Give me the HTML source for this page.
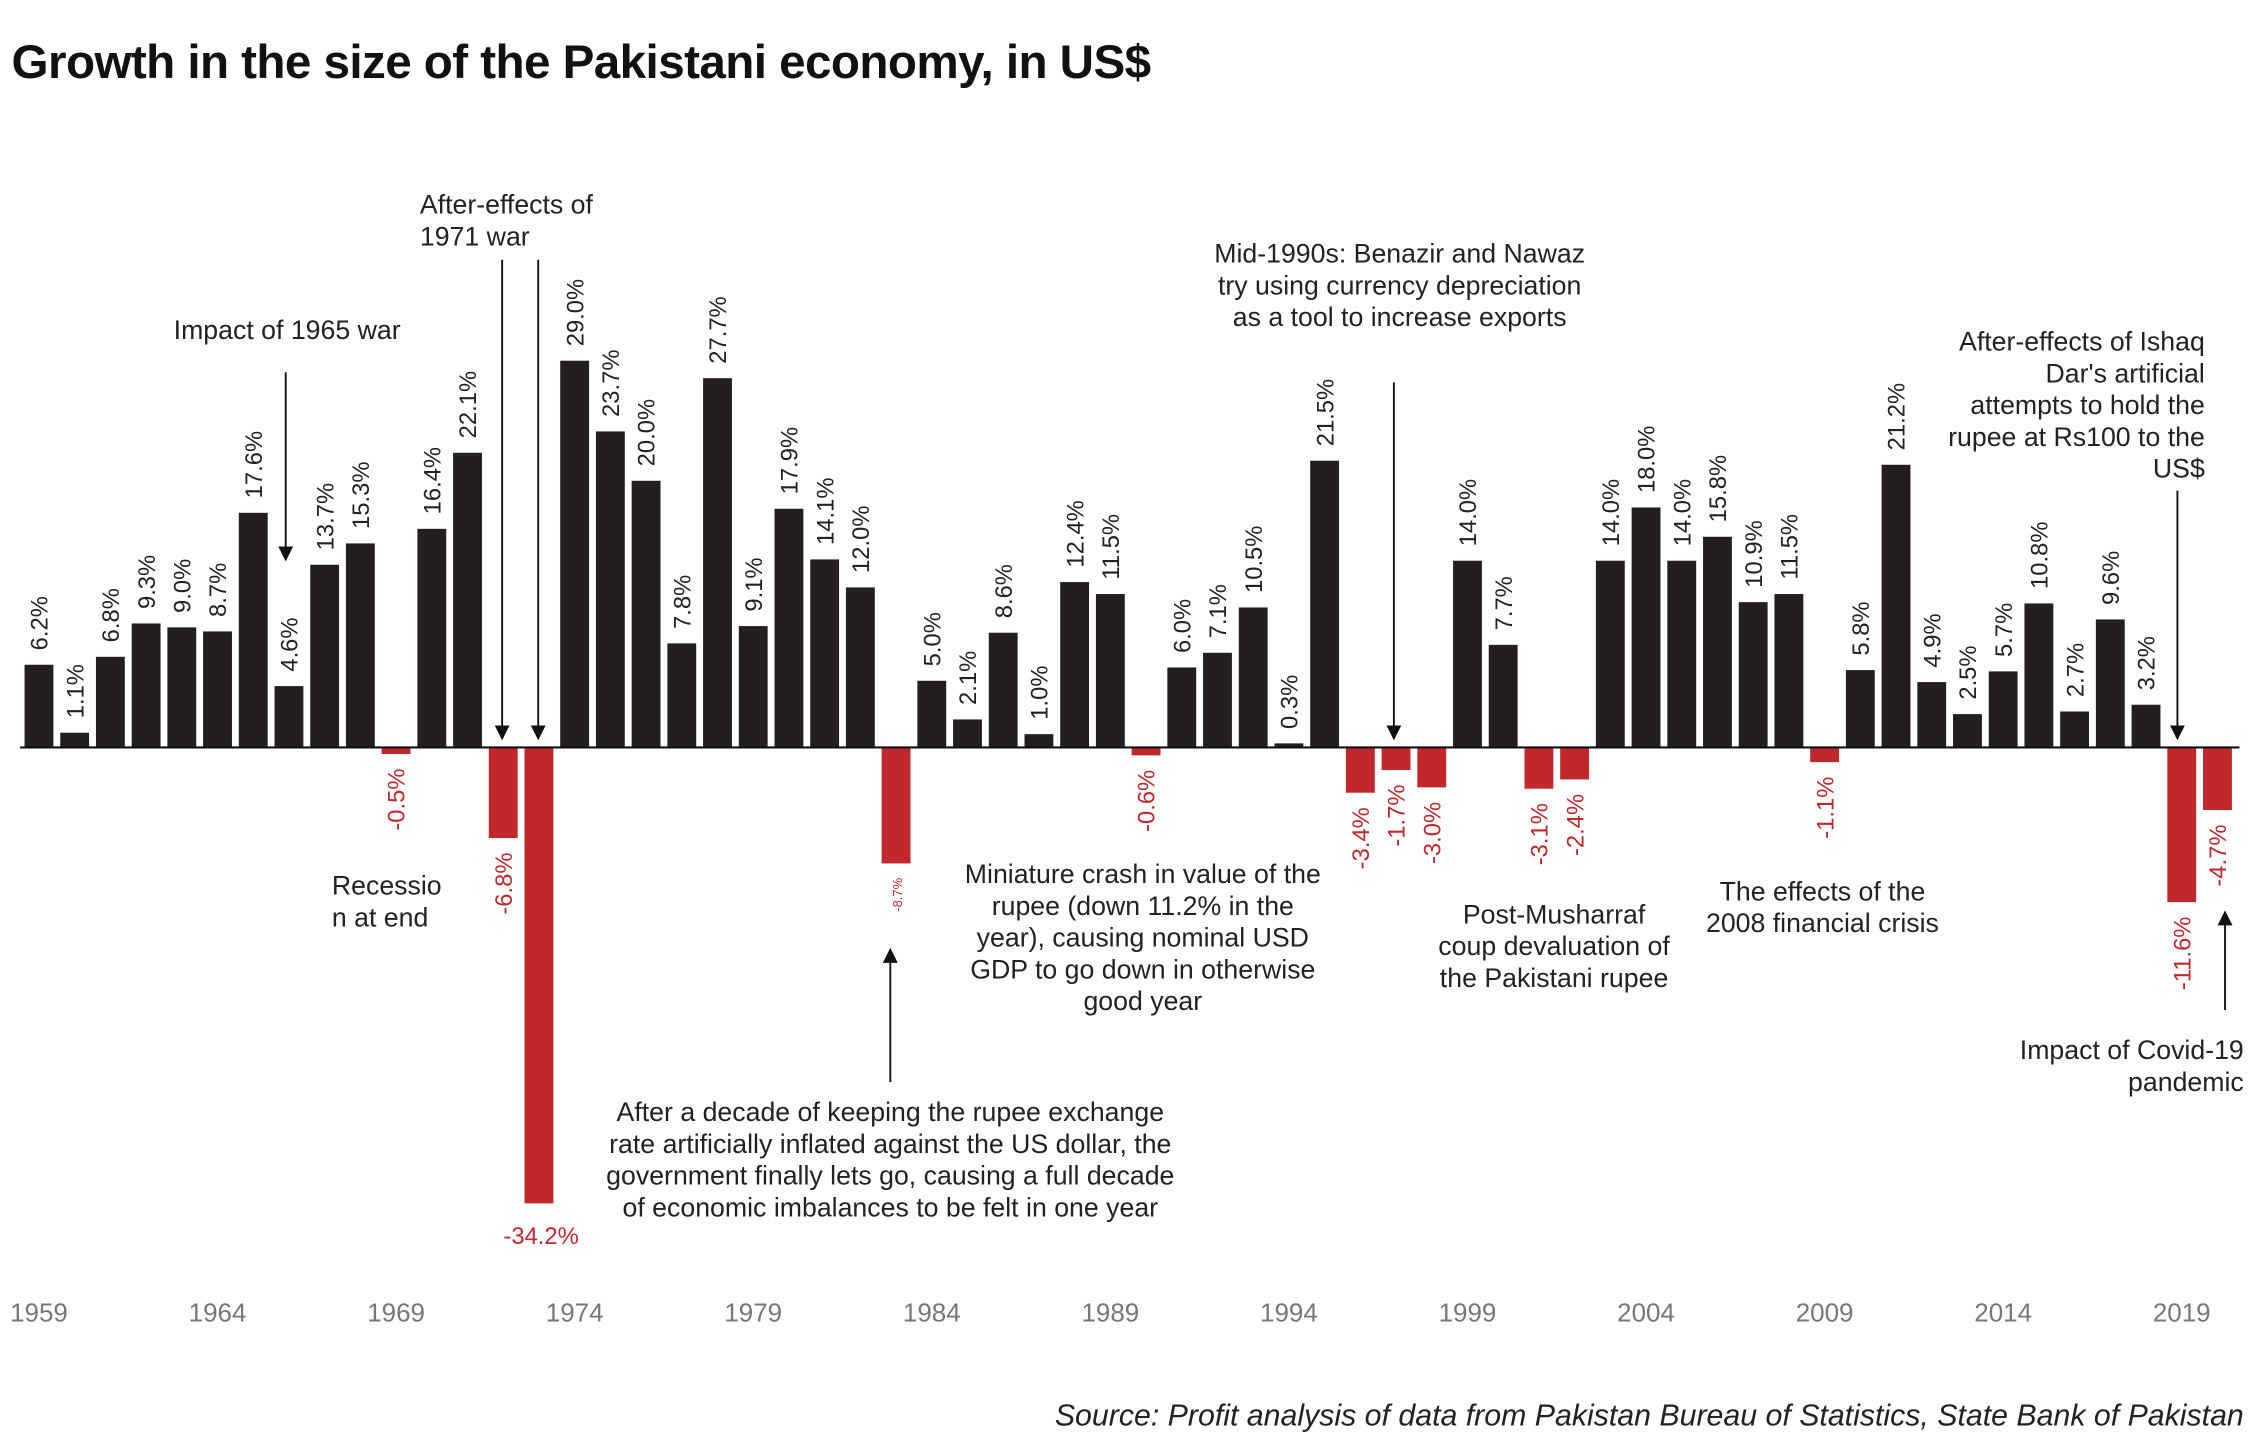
<!DOCTYPE html>
<html><head><meta charset="utf-8"><style>
html,body{margin:0;padding:0;background:#fff;}
svg{display:block;}
text{font-family:"Liberation Sans",Arial,sans-serif;}
.p{font-size:16.5px;fill:#222;}
.n{font-size:16.5px;fill:#c1272d;text-anchor:end;}
</style></head><body>
<svg width="2251" height="1439" viewBox="0 0 1560 997.3" preserveAspectRatio="none" xmlns="http://www.w3.org/2000/svg">
<defs><marker id="ah" viewBox="0 0 10 10" refX="9" refY="5" markerWidth="8" markerHeight="8" orient="auto-start-reverse"><path d="M0,0 L10,5 L0,10 z" fill="#111"/></marker></defs>
<text x="8" y="54" font-size="33" font-weight="bold" fill="#111" letter-spacing="-0.4">Growth in the size of the Pakistani economy, in US$</text>
<g fill="#231f20">
<rect x="17" y="460.7" width="20" height="57.3"/>
<rect x="41.75" y="507.8" width="20" height="10.2"/>
<rect x="66.5" y="455.2" width="20" height="62.8"/>
<rect x="91.25" y="432.1" width="20" height="85.9"/>
<rect x="116" y="434.8" width="20" height="83.2"/>
<rect x="140.75" y="437.6" width="20" height="80.4"/>
<rect x="165.5" y="355.4" width="20" height="162.6"/>
<rect x="190.25" y="475.5" width="20" height="42.5"/>
<rect x="215" y="391.4" width="20" height="126.6"/>
<rect x="239.75" y="376.6" width="20" height="141.4"/>
<rect x="289.25" y="366.5" width="20" height="151.5"/>
<rect x="314" y="313.8" width="20" height="204.2"/>
<rect x="388.25" y="250" width="20" height="268"/>
<rect x="413" y="299" width="20" height="219"/>
<rect x="437.75" y="333.2" width="20" height="184.8"/>
<rect x="462.5" y="445.9" width="20" height="72.1"/>
<rect x="487.25" y="262.1" width="20" height="255.9"/>
<rect x="512" y="433.9" width="20" height="84.1"/>
<rect x="536.75" y="352.6" width="20" height="165.4"/>
<rect x="561.5" y="387.7" width="20" height="130.3"/>
<rect x="586.25" y="407.1" width="20" height="110.9"/>
<rect x="635.75" y="471.8" width="20" height="46.2"/>
<rect x="660.5" y="498.6" width="20" height="19.4"/>
<rect x="685.25" y="438.5" width="20" height="79.5"/>
<rect x="710" y="508.8" width="20" height="9.2"/>
<rect x="734.75" y="403.4" width="20" height="114.6"/>
<rect x="759.5" y="411.7" width="20" height="106.3"/>
<rect x="809" y="462.6" width="20" height="55.4"/>
<rect x="833.75" y="452.4" width="20" height="65.6"/>
<rect x="858.5" y="421" width="20" height="97"/>
<rect x="883.25" y="515.2" width="20" height="2.8"/>
<rect x="908" y="319.3" width="20" height="198.7"/>
<rect x="1007" y="388.6" width="20" height="129.4"/>
<rect x="1031.75" y="446.9" width="20" height="71.1"/>
<rect x="1106" y="388.6" width="20" height="129.4"/>
<rect x="1130.75" y="351.7" width="20" height="166.3"/>
<rect x="1155.5" y="388.6" width="20" height="129.4"/>
<rect x="1180.25" y="372" width="20" height="146"/>
<rect x="1205" y="417.3" width="20" height="100.7"/>
<rect x="1229.75" y="411.7" width="20" height="106.3"/>
<rect x="1279.25" y="464.4" width="20" height="53.6"/>
<rect x="1304" y="322.1" width="20" height="195.9"/>
<rect x="1328.75" y="472.7" width="20" height="45.3"/>
<rect x="1353.5" y="494.9" width="20" height="23.1"/>
<rect x="1378.25" y="465.3" width="20" height="52.7"/>
<rect x="1403" y="418.2" width="20" height="99.8"/>
<rect x="1427.75" y="493.1" width="20" height="24.9"/>
<rect x="1452.5" y="429.3" width="20" height="88.7"/>
<rect x="1477.25" y="488.4" width="20" height="29.6"/>
</g>
<g fill="#c1272d">
<rect x="264.5" y="518" width="20" height="4.6"/>
<rect x="338.75" y="518" width="20" height="62.8"/>
<rect x="363.5" y="518" width="20" height="316"/>
<rect x="611" y="518" width="20" height="80.4"/>
<rect x="784.25" y="518" width="20" height="5.5"/>
<rect x="932.75" y="518" width="20" height="31.4"/>
<rect x="957.5" y="518" width="20" height="15.7"/>
<rect x="982.25" y="518" width="20" height="27.7"/>
<rect x="1056.5" y="518" width="20" height="28.6"/>
<rect x="1081.25" y="518" width="20" height="22.2"/>
<rect x="1254.5" y="518" width="20" height="10.2"/>
<rect x="1502" y="518" width="20" height="107.2"/>
<rect x="1526.75" y="518" width="20" height="43.4"/>
</g>
<g class="p">
<text class="p" transform="translate(33,450.7) rotate(-90)">6.2%</text>
<text class="p" transform="translate(57.75,497.8) rotate(-90)">1.1%</text>
<text class="p" transform="translate(82.5,445.2) rotate(-90)">6.8%</text>
<text class="p" transform="translate(107.25,422.1) rotate(-90)">9.3%</text>
<text class="p" transform="translate(132,424.8) rotate(-90)">9.0%</text>
<text class="p" transform="translate(156.75,427.6) rotate(-90)">8.7%</text>
<text class="p" transform="translate(181.5,345.4) rotate(-90)">17.6%</text>
<text class="p" transform="translate(206.25,465.5) rotate(-90)">4.6%</text>
<text class="p" transform="translate(231,381.4) rotate(-90)">13.7%</text>
<text class="p" transform="translate(255.75,366.6) rotate(-90)">15.3%</text>
<text class="p" transform="translate(305.25,356.5) rotate(-90)">16.4%</text>
<text class="p" transform="translate(330,303.8) rotate(-90)">22.1%</text>
<text class="p" transform="translate(404.25,240) rotate(-90)">29.0%</text>
<text class="p" transform="translate(429,289) rotate(-90)">23.7%</text>
<text class="p" transform="translate(453.75,323.2) rotate(-90)">20.0%</text>
<text class="p" transform="translate(478.5,435.9) rotate(-90)">7.8%</text>
<text class="p" transform="translate(503.25,252.1) rotate(-90)">27.7%</text>
<text class="p" transform="translate(528,423.9) rotate(-90)">9.1%</text>
<text class="p" transform="translate(552.75,342.6) rotate(-90)">17.9%</text>
<text class="p" transform="translate(577.5,377.7) rotate(-90)">14.1%</text>
<text class="p" transform="translate(602.25,397.1) rotate(-90)">12.0%</text>
<text class="p" transform="translate(651.75,461.8) rotate(-90)">5.0%</text>
<text class="p" transform="translate(676.5,488.6) rotate(-90)">2.1%</text>
<text class="p" transform="translate(701.25,428.5) rotate(-90)">8.6%</text>
<text class="p" transform="translate(726,498.8) rotate(-90)">1.0%</text>
<text class="p" transform="translate(750.75,393.4) rotate(-90)">12.4%</text>
<text class="p" transform="translate(775.5,401.7) rotate(-90)">11.5%</text>
<text class="p" transform="translate(825,452.6) rotate(-90)">6.0%</text>
<text class="p" transform="translate(849.75,442.4) rotate(-90)">7.1%</text>
<text class="p" transform="translate(874.5,411) rotate(-90)">10.5%</text>
<text class="p" transform="translate(899.25,505.2) rotate(-90)">0.3%</text>
<text class="p" transform="translate(924,309.3) rotate(-90)">21.5%</text>
<text class="p" transform="translate(1023,378.6) rotate(-90)">14.0%</text>
<text class="p" transform="translate(1047.75,436.9) rotate(-90)">7.7%</text>
<text class="p" transform="translate(1122,378.6) rotate(-90)">14.0%</text>
<text class="p" transform="translate(1146.75,341.7) rotate(-90)">18.0%</text>
<text class="p" transform="translate(1171.5,378.6) rotate(-90)">14.0%</text>
<text class="p" transform="translate(1196.25,362) rotate(-90)">15.8%</text>
<text class="p" transform="translate(1221,407.3) rotate(-90)">10.9%</text>
<text class="p" transform="translate(1245.75,401.7) rotate(-90)">11.5%</text>
<text class="p" transform="translate(1295.25,454.4) rotate(-90)">5.8%</text>
<text class="p" transform="translate(1320,312.1) rotate(-90)">21.2%</text>
<text class="p" transform="translate(1344.75,462.7) rotate(-90)">4.9%</text>
<text class="p" transform="translate(1369.5,484.9) rotate(-90)">2.5%</text>
<text class="p" transform="translate(1394.25,455.3) rotate(-90)">5.7%</text>
<text class="p" transform="translate(1419,408.2) rotate(-90)">10.8%</text>
<text class="p" transform="translate(1443.75,483.1) rotate(-90)">2.7%</text>
<text class="p" transform="translate(1468.5,419.3) rotate(-90)">9.6%</text>
<text class="p" transform="translate(1493.25,478.4) rotate(-90)">3.2%</text>
</g>
<text class="n" transform="translate(280.5,532.6) rotate(-90)">-0.5%</text>
<text class="n" transform="translate(354.75,590.8) rotate(-90)">-6.8%</text>
<text x="375" y="862" font-size="16.5" fill="#c1272d" text-anchor="middle">-34.2%</text>
<text class="n" transform="translate(625,608.4) rotate(-90)" style="font-size:9px">-8.7%</text>
<text class="n" transform="translate(800.25,533.5) rotate(-90)">-0.6%</text>
<text class="n" transform="translate(948.75,559.4) rotate(-90)">-3.4%</text>
<text class="n" transform="translate(973.5,543.7) rotate(-90)">-1.7%</text>
<text class="n" transform="translate(998.25,555.7) rotate(-90)">-3.0%</text>
<text class="n" transform="translate(1072.5,556.6) rotate(-90)">-3.1%</text>
<text class="n" transform="translate(1097.25,550.2) rotate(-90)">-2.4%</text>
<text class="n" transform="translate(1270.5,538.2) rotate(-90)">-1.1%</text>
<text class="n" transform="translate(1518,635.2) rotate(-90)">-11.6%</text>
<text class="n" transform="translate(1542.75,571.4) rotate(-90)">-4.7%</text>
<line x1="14" y1="518" x2="1552" y2="518" stroke="#111" stroke-width="1.5"/>
<g font-size="18.5" fill="#222">
<text x="199" y="235" text-anchor="middle">Impact of 1965 war</text>
<text x="291" y="148">After-effects of</text><text x="291" y="170">1971 war</text>
<text x="230" y="620">Recessio</text><text x="230" y="642">n at end</text>
<g text-anchor="middle"><text x="970" y="182">Mid-1990s: Benazir and Nawaz</text><text x="970" y="204">try using currency depreciation</text><text x="970" y="226">as a tool to increase exports</text>
<text x="792" y="612">Miniature crash in value of the</text><text x="792" y="634">rupee (down 11.2% in  the</text><text x="792" y="656">year), causing nominal USD</text><text x="792" y="678">GDP to go down in otherwise</text><text x="792" y="700">good year</text>
<text x="617" y="777">After a decade of keeping the rupee exchange</text><text x="617" y="799">rate artificially inflated against the US dollar, the</text><text x="617" y="821">government finally lets go, causing a full decade</text><text x="617" y="843">of economic imbalances to be felt in one year</text>
<text x="1077" y="640">Post-Musharraf</text><text x="1077" y="662">coup devaluation of</text><text x="1077" y="684">the Pakistani rupee</text>
<text x="1263" y="624">The effects of the</text><text x="1263" y="646">2008 financial crisis</text></g>
<g text-anchor="end"><text x="1528" y="243">After-effects of Ishaq</text><text x="1528" y="265">Dar's artificial</text><text x="1528" y="287">attempts to hold the</text><text x="1528" y="309">rupee at Rs100 to the</text><text x="1528" y="331">US$</text>
<text x="1555" y="734">Impact of Covid-19</text><text x="1555" y="756">pandemic</text></g>
</g>
<g stroke="#111" stroke-width="1.3" marker-end="url(#ah)">
<line x1="198" y1="258" x2="198" y2="388"/>
<line x1="348" y1="180" x2="348" y2="512"/>
<line x1="373" y1="180" x2="373" y2="512"/>
<line x1="966" y1="265" x2="966" y2="512"/>
<line x1="1509" y1="340" x2="1509" y2="512"/>
<line x1="617" y1="750" x2="617" y2="658"/>
<line x1="1542" y1="700" x2="1542" y2="632"/>
</g>
<g font-size="18" fill="#777" text-anchor="middle">
<text x="27" y="916">1959</text><text x="150.75" y="916">1964</text><text x="274.5" y="916">1969</text><text x="398.25" y="916">1974</text><text x="522" y="916">1979</text><text x="645.75" y="916">1984</text><text x="769.5" y="916">1989</text><text x="893.25" y="916">1994</text><text x="1017" y="916">1999</text><text x="1140.75" y="916">2004</text><text x="1264.5" y="916">2009</text><text x="1388.25" y="916">2014</text><text x="1512" y="916">2019</text>
</g>
<text x="1555" y="988" font-size="21" font-style="italic" fill="#222" text-anchor="end">Source: Profit analysis of data from Pakistan Bureau of Statistics, State Bank of Pakistan</text>
</svg>
</body></html>
